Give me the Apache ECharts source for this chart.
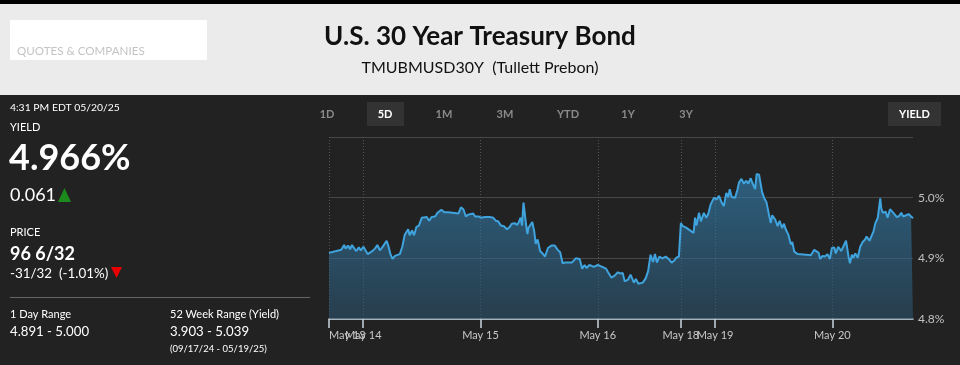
<!DOCTYPE html>
<html>
<head>
<meta charset="utf-8">
<script src="https://cdn.jsdelivr.net/npm/echarts@6/dist/echarts.min.js"></script>
<style>
html,body{margin:0;padding:0;background:#222;}
#c{width:960px;height:365px;}
</style>
</head>
<body>
<div id="c"></div>
<script>
// ---- data ----
// hours since first point (May 13 ~5 PM ET), weekend closure removed
const hours = [
0,2.5,3.1,3.4,3.9,4.3,4.7,5.2,5.6,6.1,6.5,7.05,7.4,7.9,8.7,9.4,9.9,10.4,10.9,11.3,11.8,12.2,12.6,13.0,13.5,13.9,14.5,15.0,15.5,16.2,16.5,17.0,17.4,17.9,18.4,19.0,19.3,20.0,20.5,21.0,21.7,22.2,22.6,23.0,23.6,
24.4,26.5,27.0,27.5,28.0,28.5,29.5,29.9,30.6,31.1,31.9,32.3,32.9,33.6,34.1,34.6,35.2,35.8,36.4,36.9,37.4,38.0,38.5,38.8,39.2,39.5,39.8,40.0,40.3,40.6,40.8,41.2,41.6,42.0,42.3,42.7,43.2,43.7,44.2,44.8,45.5,45.9,46.2,46.8,47.3,47.8,
48.3,49.7,50.5,50.9,51.3,51.8,52.3,52.7,53.3,54.2,55.0,55.9,56.7,57.1,57.8,58.5,59.1,59.6,60.1,60.5,61.2,61.7,62.4,62.8,63.3,63.7,64.2,64.8,65.3,65.8,66.3,66.7,67.1,67.6,68.2,68.9,69.5,70.1,70.6,71.1,71.6,71.9,
72.0,72.4,73.0,74.6,74.9,75.2,75.7,76.1,76.7,77.2,77.6,78.1,78.8,79.3,79.8,80.3,80.8,81.3,81.7,82.0,82.4,83.1,83.6,83.9,84.4,84.9,85.4,85.8,86.3,86.6,87.2,87.5,88.0,88.6,89.0,89.5,90.0,90.4,90.7,91.3,91.8,92.2,92.7,93.1,93.5,94.0,94.5,94.8,95.2,95.9,97.6,
98.6,99.3,99.6,100.2,100.5,101.0,101.5,102.0,102.5,102.9,103.4,103.7,104.2,104.8,105.2,105.8,106.1,106.3,106.6,107.0,107.3,107.7,108.2,108.7,109.2,109.7,110.0,110.6,111.0,111.4,111.8,112.3,112.8,113.0,113.3,113.9,114.3,114.8,115.2,115.7,116.2,116.7,117.1,117.5,118.1,118.6,119.1,119.5
];
const yields = [
4.909,4.914,4.922,4.916,4.921,4.915,4.922,4.916,4.912,4.918,4.913,4.919,4.914,4.907,4.911,4.916,4.922,4.913,4.918,4.917,4.929,4.919,4.906,4.899,4.904,4.901,4.907,4.919,4.939,4.948,4.938,4.946,4.938,4.952,4.954,4.967,4.969,4.968,4.962,4.968,4.969,4.975,4.973,4.980,4.976,
4.976,4.974,4.984,4.981,4.969,4.972,4.974,4.969,4.969,4.967,4.968,4.971,4.968,4.967,4.962,4.961,4.954,4.953,4.948,4.951,4.957,4.958,4.955,4.959,4.967,4.954,4.992,4.989,4.957,4.940,4.950,4.953,4.960,4.944,4.924,4.931,4.912,4.908,4.903,4.917,4.921,4.919,4.921,4.914,4.910,4.892,
4.893,4.893,4.900,4.902,4.899,4.883,4.889,4.884,4.889,4.886,4.889,4.886,4.883,4.877,4.868,4.872,4.877,4.875,4.876,4.862,4.865,4.873,4.860,4.866,4.858,4.856,4.860,4.867,4.879,4.906,4.894,4.907,4.893,4.903,4.900,4.903,4.899,4.893,4.896,4.901,4.903,4.903,
4.958,4.953,4.951,4.942,4.967,4.954,4.975,4.961,4.975,4.967,4.973,4.989,5.000,4.997,5.003,4.993,4.986,5.008,5.001,5.014,5.001,5.000,5.014,5.025,5.031,5.023,5.028,5.023,5.032,5.025,5.014,5.039,5.038,5.010,5.000,4.993,4.973,4.958,4.971,4.964,4.953,4.962,4.950,4.957,4.947,4.939,4.923,4.927,4.911,4.907,4.906,
4.905,4.914,4.916,4.909,4.899,4.904,4.903,4.907,4.899,4.917,4.918,4.908,4.919,4.912,4.910,4.929,4.929,4.903,4.892,4.906,4.901,4.908,4.901,4.919,4.927,4.931,4.936,4.929,4.931,4.944,4.958,4.967,4.999,4.983,4.975,4.977,4.967,4.981,4.984,4.973,4.968,4.970,4.975,4.969,4.971,4.973,4.969,4.966
];
const tickHours = [0, 7, 31, 55, 72, 79, 103];
const tickLabels = ['May 13', 'May 14', 'May 15', 'May 16', 'May 18', 'May 19', 'May 20'];
const yTicks = [4.8, 4.9, 5.0];

const rangeTabs = ['1D', '5D', '1M', '3M', 'YTD', '1Y', '3Y'];
const tabCenters = [327, 385, 444, 505, 568, 628, 686];

// ---- chart ----
const points = hours.map((h, i) => [h, yields[i]]);
const F = 'Lato, "Open Sans", sans-serif';

function txt(x, y, text, size, color, weight, align) {
  return {
    type: 'text', x: x, y: y, silent: true,
    style: { text: text, font: (weight || 'normal') + ' ' + size + 'px ' + F, fill: color,
      align: align || 'left', verticalAlign: 'middle' }
  };
}

const graphics = [
  { type: 'rect', shape: { x: 0, y: 0, width: 960, height: 4 }, style: { fill: '#000' }, silent: true },
  { type: 'rect', shape: { x: 0, y: 4, width: 960, height: 91 }, style: { fill: '#ebebeb' }, silent: true },
  { type: 'rect', shape: { x: 10, y: 20, width: 197, height: 40 }, style: { fill: '#fff' }, silent: true },
  txt(17, 51.5, 'QUOTES & COMPANIES', 11.6, '#c4c4c4'),
  txt(480, 37, 'U.S. 30 Year Treasury Bond', 26, '#111', 'bold', 'center'),
  txt(480, 68, 'TMUBMUSD30Y  (Tullett Prebon)', 16, '#111', 'normal', 'center'),
  txt(10, 108, '4:31 PM EDT 05/20/25', 10.4, '#fff'),
  txt(10, 127, 'YIELD', 11, '#fff'),
  txt(9, 158, '4.966%', 36, '#fff', 'bold'),
  txt(10, 195, '0.061', 18, '#fff'),
  { type: 'polygon', shape: { points: [[58, 202], [71, 202], [64.5, 188]] }, style: { fill: '#1c8a1c' }, silent: true },
  txt(10, 232, 'PRICE', 11, '#fff'),
  txt(10, 254, '96 6/32', 18, '#fff', 'bold'),
  txt(10, 274, '-31/32  (-1.01%)', 13.4, '#fff'),
  { type: 'polygon', shape: { points: [[111, 267], [122, 267], [116.5, 278]] }, style: { fill: '#e80000' }, silent: true },
  { type: 'line', shape: { x1: 10, y1: 297.5, x2: 310, y2: 297.5 }, style: { stroke: '#666', lineWidth: 1 }, silent: true },
  txt(10, 314, '1 Day Range', 11, '#fff'),
  txt(10, 332, '4.891 - 5.000', 13.2, '#fff'),
  txt(170, 314, '52 Week Range (Yield)', 11, '#fff'),
  txt(170, 332, '3.903 - 5.039', 13.2, '#fff'),
  txt(170, 349, '(09/17/24 - 05/19/25)', 9.5, '#fff'),
  { type: 'rect', shape: { x: 367, y: 102, width: 37, height: 24 }, style: { fill: '#333' }, silent: true },
  { type: 'rect', shape: { x: 888, y: 102, width: 53, height: 24 }, style: { fill: '#333' }, silent: true },
  txt(914.5, 114, 'YIELD', 11, '#fff', 'bold', 'center')
];
rangeTabs.forEach((t, i) => {
  graphics.push(txt(tabCenters[i], 114, t, 11, t === '5D' ? '#fff' : '#8a8a8a', 'bold', 'center'));
});

const labelFmt = v => { const i = tickHours.indexOf(v); return i >= 0 ? tickLabels[i] : ''; };

const chart = echarts.init(document.getElementById('c'), null, { renderer: 'canvas' });
chart.setOption({
  backgroundColor: '#222',
  animation: false,
  textStyle: { fontFamily: F },
  grid: { left: 329, right: 47, top: 137, bottom: 46, containLabel: false },
  xAxis: [{
    type: 'value', min: 0, max: 119.5, position: 'bottom',
    axisLine: { show: true, lineStyle: { color: '#c9d4de', width: 1.5 } },
    axisTick: { show: true, length: 9, customValues: tickHours, lineStyle: { color: '#c9d4de', width: 1.5 } },
    axisLabel: {
      customValues: tickHours.slice(1), color: '#c8c8c8', fontSize: 11, margin: 11, hideOverlap: false,
      formatter: labelFmt
    },
    splitLine: { show: true, lineStyle: { color: '#555', type: [1, 2], width: 1 } }
  }, {
    type: 'value', min: 0, max: 119.5, position: 'bottom',
    axisLine: { show: false }, axisTick: { show: false }, splitLine: { show: false },
    axisLabel: {
      customValues: tickHours.slice(0, 1), color: '#c8c8c8', fontSize: 11, margin: 11,
      alignMinLabel: 'left', showMinLabel: true, hideOverlap: false, formatter: labelFmt
    }
  }],
  yAxis: {
    type: 'value', position: 'right', min: 4.8, max: 5.1, interval: 0.1,
    axisLine: { show: false }, axisTick: { show: false },
    axisLabel: {
      color: '#c0c0c0', fontSize: 12, margin: 5,
      formatter: v => yTicks.some(t => Math.abs(t - v) < 1e-6) ? v.toFixed(1) + '%' : ''
    },
    splitLine: { show: true, lineStyle: { color: '#474747', width: 1 } }
  },
  series: [{
    type: 'line', data: points, showSymbol: false, symbol: 'none',
    lineStyle: { color: '#3fa3de', width: 2 },
    areaStyle: {
      origin: 'start',
      color: new echarts.graphic.LinearGradient(0, 0, 0, 1, [
        { offset: 0, color: 'rgba(53,135,187,0.85)' },
        { offset: 1, color: 'rgba(43,81,107,0.85)' }
      ])
    }
  }],
  graphic: graphics
});
</script>
</body>
</html>
